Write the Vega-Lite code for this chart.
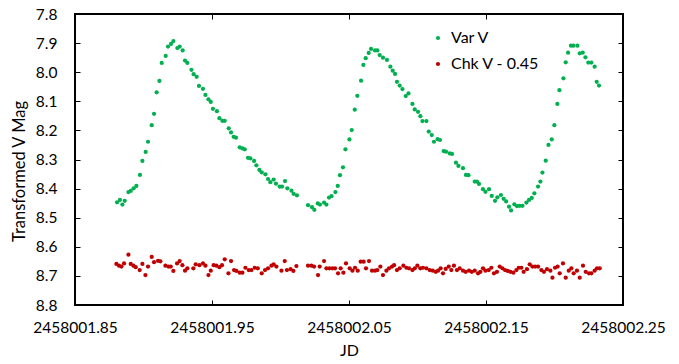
{
"$schema":"https://vega.github.io/schema/vega-lite/v6.json",
"width":548,"height":291,
"autosize":{"type":"none"},
"padding":{"left":75,"top":14,"right":56,"bottom":59},
"background":"white",
"config":{"view":{"stroke":"#000","strokeWidth":2},"font":"Lato"},
"data":{"values":[
{"s":"Var V","jd":2458001.8807,"mag":8.447},{"s":"Var V","jd":2458001.8828,"mag":8.439},{"s":"Var V","jd":2458001.8846,"mag":8.455},{"s":"Var V","jd":2458001.8863,"mag":8.442},{"s":"Var V","jd":2458001.889,"mag":8.412},{"s":"Var V","jd":2458001.8907,"mag":8.408},{"s":"Var V","jd":2458001.8928,"mag":8.399},{"s":"Var V","jd":2458001.8948,"mag":8.391},{"s":"Var V","jd":2458001.8974,"mag":8.353},{"s":"Var V","jd":2458001.8992,"mag":8.305},{"s":"Var V","jd":2458001.9016,"mag":8.274},{"s":"Var V","jd":2458001.9033,"mag":8.239},{"s":"Var V","jd":2458001.906,"mag":8.182},{"s":"Var V","jd":2458001.9077,"mag":8.143},{"s":"Var V","jd":2458001.9096,"mag":8.069},{"s":"Var V","jd":2458001.9116,"mag":8.03},{"s":"Var V","jd":2458001.9133,"mag":7.968},{"s":"Var V","jd":2458001.9162,"mag":7.944},{"s":"Var V","jd":2458001.9179,"mag":7.912},{"s":"Var V","jd":2458001.9201,"mag":7.903},{"s":"Var V","jd":2458001.9218,"mag":7.893},{"s":"Var V","jd":2458001.9247,"mag":7.917},{"s":"Var V","jd":2458001.9264,"mag":7.912},{"s":"Var V","jd":2458001.9286,"mag":7.925},{"s":"Var V","jd":2458001.9303,"mag":7.96},{"s":"Var V","jd":2458001.932,"mag":7.968},{"s":"Var V","jd":2458001.935,"mag":7.992},{"s":"Var V","jd":2458001.9366,"mag":8.007},{"s":"Var V","jd":2458001.9388,"mag":8.016},{"s":"Var V","jd":2458001.9405,"mag":8.047},{"s":"Var V","jd":2458001.9434,"mag":8.057},{"s":"Var V","jd":2458001.9452,"mag":8.078},{"s":"Var V","jd":2458001.9474,"mag":8.093},{"s":"Var V","jd":2458001.9491,"mag":8.102},{"s":"Var V","jd":2458001.9507,"mag":8.126},{"s":"Var V","jd":2458001.9536,"mag":8.134},{"s":"Var V","jd":2458001.9554,"mag":8.158},{"s":"Var V","jd":2458001.9576,"mag":8.167},{"s":"Var V","jd":2458001.9593,"mag":8.167},{"s":"Var V","jd":2458001.9622,"mag":8.193},{"s":"Var V","jd":2458001.9639,"mag":8.207},{"s":"Var V","jd":2458001.9658,"mag":8.222},{"s":"Var V","jd":2458001.9675,"mag":8.225},{"s":"Var V","jd":2458001.9702,"mag":8.258},{"s":"Var V","jd":2458001.9722,"mag":8.262},{"s":"Var V","jd":2458001.9739,"mag":8.265},{"s":"Var V","jd":2458001.9763,"mag":8.294},{"s":"Var V","jd":2458001.978,"mag":8.296},{"s":"Var V","jd":2458001.9807,"mag":8.305},{"s":"Var V","jd":2458001.9824,"mag":8.32},{"s":"Var V","jd":2458001.9846,"mag":8.336},{"s":"Var V","jd":2458001.9863,"mag":8.344},{"s":"Var V","jd":2458001.989,"mag":8.351},{"s":"Var V","jd":2458001.9909,"mag":8.367},{"s":"Var V","jd":2458001.9926,"mag":8.378},{"s":"Var V","jd":2458001.995,"mag":8.369},{"s":"Var V","jd":2458001.9967,"mag":8.383},{"s":"Var V","jd":2458001.9994,"mag":8.393},{"s":"Var V","jd":2458002.0011,"mag":8.393},{"s":"Var V","jd":2458002.0033,"mag":8.374},{"s":"Var V","jd":2458002.005,"mag":8.399},{"s":"Var V","jd":2458002.008,"mag":8.407},{"s":"Var V","jd":2458002.0096,"mag":8.418},{"s":"Var V","jd":2458002.012,"mag":8.423},{"s":"Var V","jd":2458002.0201,"mag":8.457},{"s":"Var V","jd":2458002.023,"mag":8.464},{"s":"Var V","jd":2458002.0247,"mag":8.473},{"s":"Var V","jd":2458002.0272,"mag":8.451},{"s":"Var V","jd":2458002.0288,"mag":8.455},{"s":"Var V","jd":2458002.0318,"mag":8.448},{"s":"Var V","jd":2458002.0335,"mag":8.455},{"s":"Var V","jd":2458002.0354,"mag":8.431},{"s":"Var V","jd":2458002.0372,"mag":8.426},{"s":"Var V","jd":2458002.0401,"mag":8.412},{"s":"Var V","jd":2458002.0418,"mag":8.391},{"s":"Var V","jd":2458002.0434,"mag":8.354},{"s":"Var V","jd":2458002.0456,"mag":8.327},{"s":"Var V","jd":2458002.0474,"mag":8.265},{"s":"Var V","jd":2458002.0503,"mag":8.231},{"s":"Var V","jd":2458002.052,"mag":8.199},{"s":"Var V","jd":2458002.0542,"mag":8.129},{"s":"Var V","jd":2458002.0561,"mag":8.081},{"s":"Var V","jd":2458002.0588,"mag":8.029},{"s":"Var V","jd":2458002.0605,"mag":7.975},{"s":"Var V","jd":2458002.0622,"mag":7.952},{"s":"Var V","jd":2458002.0644,"mag":7.934},{"s":"Var V","jd":2458002.0661,"mag":7.92},{"s":"Var V","jd":2458002.069,"mag":7.925},{"s":"Var V","jd":2458002.0707,"mag":7.925},{"s":"Var V","jd":2458002.0724,"mag":7.941},{"s":"Var V","jd":2458002.0748,"mag":7.95},{"s":"Var V","jd":2458002.0777,"mag":7.958},{"s":"Var V","jd":2458002.0802,"mag":7.981},{"s":"Var V","jd":2458002.0819,"mag":7.995},{"s":"Var V","jd":2458002.0836,"mag":8.006},{"s":"Var V","jd":2458002.085,"mag":8.033},{"s":"Var V","jd":2458002.087,"mag":8.046},{"s":"Var V","jd":2458002.089,"mag":8.058},{"s":"Var V","jd":2458002.0914,"mag":8.082},{"s":"Var V","jd":2458002.0934,"mag":8.073},{"s":"Var V","jd":2458002.0963,"mag":8.109},{"s":"Var V","jd":2458002.098,"mag":8.128},{"s":"Var V","jd":2458002.1004,"mag":8.136},{"s":"Var V","jd":2458002.1021,"mag":8.151},{"s":"Var V","jd":2458002.1036,"mag":8.168},{"s":"Var V","jd":2458002.1065,"mag":8.168},{"s":"Var V","jd":2458002.1082,"mag":8.204},{"s":"Var V","jd":2458002.1104,"mag":8.216},{"s":"Var V","jd":2458002.112,"mag":8.239},{"s":"Var V","jd":2458002.1147,"mag":8.23},{"s":"Var V","jd":2458002.1164,"mag":8.233},{"s":"Var V","jd":2458002.1191,"mag":8.271},{"s":"Var V","jd":2458002.1208,"mag":8.273},{"s":"Var V","jd":2458002.1235,"mag":8.279},{"s":"Var V","jd":2458002.1252,"mag":8.281},{"s":"Var V","jd":2458002.1281,"mag":8.311},{"s":"Var V","jd":2458002.1299,"mag":8.322},{"s":"Var V","jd":2458002.1332,"mag":8.33},{"s":"Var V","jd":2458002.1354,"mag":8.353},{"s":"Var V","jd":2458002.1372,"mag":8.354},{"s":"Var V","jd":2458002.1418,"mag":8.376},{"s":"Var V","jd":2458002.1434,"mag":8.376},{"s":"Var V","jd":2458002.1449,"mag":8.384},{"s":"Var V","jd":2458002.1478,"mag":8.402},{"s":"Var V","jd":2458002.1496,"mag":8.411},{"s":"Var V","jd":2458002.1522,"mag":8.402},{"s":"Var V","jd":2458002.1542,"mag":8.425},{"s":"Var V","jd":2458002.1566,"mag":8.442},{"s":"Var V","jd":2458002.1583,"mag":8.43},{"s":"Var V","jd":2458002.1609,"mag":8.422},{"s":"Var V","jd":2458002.1629,"mag":8.435},{"s":"Var V","jd":2458002.1647,"mag":8.444},{"s":"Var V","jd":2458002.1668,"mag":8.462},{"s":"Var V","jd":2458002.1683,"mag":8.475},{"s":"Var V","jd":2458002.1707,"mag":8.454},{"s":"Var V","jd":2458002.1726,"mag":8.46},{"s":"Var V","jd":2458002.1746,"mag":8.459},{"s":"Var V","jd":2458002.1766,"mag":8.459},{"s":"Var V","jd":2458002.1795,"mag":8.448},{"s":"Var V","jd":2458002.1814,"mag":8.439},{"s":"Var V","jd":2458002.1834,"mag":8.432},{"s":"Var V","jd":2458002.1853,"mag":8.416},{"s":"Var V","jd":2458002.188,"mag":8.393},{"s":"Var V","jd":2458002.1897,"mag":8.376},{"s":"Var V","jd":2458002.1912,"mag":8.345},{"s":"Var V","jd":2458002.1936,"mag":8.304},{"s":"Var V","jd":2458002.1956,"mag":8.25},{"s":"Var V","jd":2458002.198,"mag":8.231},{"s":"Var V","jd":2458002.1999,"mag":8.182},{"s":"Var V","jd":2458002.2021,"mag":8.109},{"s":"Var V","jd":2458002.2036,"mag":8.062},{"s":"Var V","jd":2458002.2065,"mag":8.021},{"s":"Var V","jd":2458002.2082,"mag":7.966},{"s":"Var V","jd":2458002.2099,"mag":7.933},{"s":"Var V","jd":2458002.212,"mag":7.909},{"s":"Var V","jd":2458002.2138,"mag":7.909},{"s":"Var V","jd":2458002.2167,"mag":7.909},{"s":"Var V","jd":2458002.2184,"mag":7.935},{"s":"Var V","jd":2458002.2206,"mag":7.933},{"s":"Var V","jd":2458002.2226,"mag":7.949},{"s":"Var V","jd":2458002.2247,"mag":7.967},{"s":"Var V","jd":2458002.2269,"mag":7.967},{"s":"Var V","jd":2458002.2293,"mag":7.981},{"s":"Var V","jd":2458002.2308,"mag":8.033},{"s":"Var V","jd":2458002.2325,"mag":8.046},
{"s":"Chk V - 0.45","jd":2458001.8802,"mag":8.659},{"s":"Chk V - 0.45","jd":2458001.8821,"mag":8.665},{"s":"Chk V - 0.45","jd":2458001.8839,"mag":8.668},{"s":"Chk V - 0.45","jd":2458001.8858,"mag":8.657},{"s":"Chk V - 0.45","jd":2458001.889,"mag":8.627},{"s":"Chk V - 0.45","jd":2458001.8907,"mag":8.659},{"s":"Chk V - 0.45","jd":2458001.8926,"mag":8.665},{"s":"Chk V - 0.45","jd":2458001.8943,"mag":8.67},{"s":"Chk V - 0.45","jd":2458001.8972,"mag":8.68},{"s":"Chk V - 0.45","jd":2458001.8992,"mag":8.659},{"s":"Chk V - 0.45","jd":2458001.9014,"mag":8.697},{"s":"Chk V - 0.45","jd":2458001.9033,"mag":8.668},{"s":"Chk V - 0.45","jd":2458001.906,"mag":8.635},{"s":"Chk V - 0.45","jd":2458001.9077,"mag":8.653},{"s":"Chk V - 0.45","jd":2458001.9106,"mag":8.648},{"s":"Chk V - 0.45","jd":2458001.9123,"mag":8.65},{"s":"Chk V - 0.45","jd":2458001.916,"mag":8.665},{"s":"Chk V - 0.45","jd":2458001.9182,"mag":8.668},{"s":"Chk V - 0.45","jd":2458001.9199,"mag":8.668},{"s":"Chk V - 0.45","jd":2458001.9218,"mag":8.683},{"s":"Chk V - 0.45","jd":2458001.9245,"mag":8.657},{"s":"Chk V - 0.45","jd":2458001.9264,"mag":8.649},{"s":"Chk V - 0.45","jd":2458001.9284,"mag":8.663},{"s":"Chk V - 0.45","jd":2458001.9303,"mag":8.682},{"s":"Chk V - 0.45","jd":2458001.932,"mag":8.674},{"s":"Chk V - 0.45","jd":2458001.9364,"mag":8.674},{"s":"Chk V - 0.45","jd":2458001.9381,"mag":8.66},{"s":"Chk V - 0.45","jd":2458001.9408,"mag":8.663},{"s":"Chk V - 0.45","jd":2458001.9434,"mag":8.657},{"s":"Chk V - 0.45","jd":2458001.9452,"mag":8.665},{"s":"Chk V - 0.45","jd":2458001.9474,"mag":8.697},{"s":"Chk V - 0.45","jd":2458001.9491,"mag":8.682},{"s":"Chk V - 0.45","jd":2458001.9512,"mag":8.663},{"s":"Chk V - 0.45","jd":2458001.9532,"mag":8.665},{"s":"Chk V - 0.45","jd":2458001.9554,"mag":8.67},{"s":"Chk V - 0.45","jd":2458001.9573,"mag":8.663},{"s":"Chk V - 0.45","jd":2458001.9593,"mag":8.643},{"s":"Chk V - 0.45","jd":2458001.962,"mag":8.691},{"s":"Chk V - 0.45","jd":2458001.9639,"mag":8.649},{"s":"Chk V - 0.45","jd":2458001.9661,"mag":8.68},{"s":"Chk V - 0.45","jd":2458001.9678,"mag":8.683},{"s":"Chk V - 0.45","jd":2458001.9702,"mag":8.689},{"s":"Chk V - 0.45","jd":2458001.9722,"mag":8.689},{"s":"Chk V - 0.45","jd":2458001.9744,"mag":8.672},{"s":"Chk V - 0.45","jd":2458001.9768,"mag":8.68},{"s":"Chk V - 0.45","jd":2458001.9788,"mag":8.68},{"s":"Chk V - 0.45","jd":2458001.9812,"mag":8.672},{"s":"Chk V - 0.45","jd":2458001.9834,"mag":8.674},{"s":"Chk V - 0.45","jd":2458001.9863,"mag":8.691},{"s":"Chk V - 0.45","jd":2458001.9887,"mag":8.68},{"s":"Chk V - 0.45","jd":2458001.9909,"mag":8.674},{"s":"Chk V - 0.45","jd":2458001.9934,"mag":8.665},{"s":"Chk V - 0.45","jd":2458001.995,"mag":8.66},{"s":"Chk V - 0.45","jd":2458001.997,"mag":8.668},{"s":"Chk V - 0.45","jd":2458002.0007,"mag":8.682},{"s":"Chk V - 0.45","jd":2458002.0031,"mag":8.649},{"s":"Chk V - 0.45","jd":2458002.0047,"mag":8.68},{"s":"Chk V - 0.45","jd":2458002.0074,"mag":8.677},{"s":"Chk V - 0.45","jd":2458002.0094,"mag":8.683},{"s":"Chk V - 0.45","jd":2458002.0116,"mag":8.666},{"s":"Chk V - 0.45","jd":2458002.0201,"mag":8.665},{"s":"Chk V - 0.45","jd":2458002.0226,"mag":8.665},{"s":"Chk V - 0.45","jd":2458002.0245,"mag":8.668},{"s":"Chk V - 0.45","jd":2458002.0274,"mag":8.697},{"s":"Chk V - 0.45","jd":2458002.0286,"mag":8.668},{"s":"Chk V - 0.45","jd":2458002.0318,"mag":8.649},{"s":"Chk V - 0.45","jd":2458002.0335,"mag":8.674},{"s":"Chk V - 0.45","jd":2458002.0357,"mag":8.674},{"s":"Chk V - 0.45","jd":2458002.0379,"mag":8.674},{"s":"Chk V - 0.45","jd":2458002.0398,"mag":8.674},{"s":"Chk V - 0.45","jd":2458002.042,"mag":8.691},{"s":"Chk V - 0.45","jd":2458002.0439,"mag":8.674},{"s":"Chk V - 0.45","jd":2458002.0459,"mag":8.689},{"s":"Chk V - 0.45","jd":2458002.0478,"mag":8.657},{"s":"Chk V - 0.45","jd":2458002.0505,"mag":8.674},{"s":"Chk V - 0.45","jd":2458002.0525,"mag":8.682},{"s":"Chk V - 0.45","jd":2458002.0544,"mag":8.672},{"s":"Chk V - 0.45","jd":2458002.0564,"mag":8.682},{"s":"Chk V - 0.45","jd":2458002.0585,"mag":8.651},{"s":"Chk V - 0.45","jd":2458002.0607,"mag":8.651},{"s":"Chk V - 0.45","jd":2458002.0624,"mag":8.674},{"s":"Chk V - 0.45","jd":2458002.0646,"mag":8.649},{"s":"Chk V - 0.45","jd":2458002.0668,"mag":8.682},{"s":"Chk V - 0.45","jd":2458002.069,"mag":8.682},{"s":"Chk V - 0.45","jd":2458002.0707,"mag":8.68},{"s":"Chk V - 0.45","jd":2458002.0729,"mag":8.668},{"s":"Chk V - 0.45","jd":2458002.0748,"mag":8.697},{"s":"Chk V - 0.45","jd":2458002.0773,"mag":8.682},{"s":"Chk V - 0.45","jd":2458002.0792,"mag":8.674},{"s":"Chk V - 0.45","jd":2458002.0814,"mag":8.668},{"s":"Chk V - 0.45","jd":2458002.0829,"mag":8.663},{"s":"Chk V - 0.45","jd":2458002.085,"mag":8.68},{"s":"Chk V - 0.45","jd":2458002.087,"mag":8.674},{"s":"Chk V - 0.45","jd":2458002.0897,"mag":8.665},{"s":"Chk V - 0.45","jd":2458002.0919,"mag":8.672},{"s":"Chk V - 0.45","jd":2458002.0938,"mag":8.674},{"s":"Chk V - 0.45","jd":2458002.0963,"mag":8.68},{"s":"Chk V - 0.45","jd":2458002.098,"mag":8.674},{"s":"Chk V - 0.45","jd":2458002.0999,"mag":8.665},{"s":"Chk V - 0.45","jd":2458002.1021,"mag":8.674},{"s":"Chk V - 0.45","jd":2458002.104,"mag":8.672},{"s":"Chk V - 0.45","jd":2458002.1065,"mag":8.674},{"s":"Chk V - 0.45","jd":2458002.1089,"mag":8.68},{"s":"Chk V - 0.45","jd":2458002.1111,"mag":8.682},{"s":"Chk V - 0.45","jd":2458002.1133,"mag":8.686},{"s":"Chk V - 0.45","jd":2458002.115,"mag":8.682},{"s":"Chk V - 0.45","jd":2458002.1169,"mag":8.674},{"s":"Chk V - 0.45","jd":2458002.1186,"mag":8.691},{"s":"Chk V - 0.45","jd":2458002.1206,"mag":8.676},{"s":"Chk V - 0.45","jd":2458002.1228,"mag":8.668},{"s":"Chk V - 0.45","jd":2458002.1247,"mag":8.68},{"s":"Chk V - 0.45","jd":2458002.1266,"mag":8.665},{"s":"Chk V - 0.45","jd":2458002.1288,"mag":8.68},{"s":"Chk V - 0.45","jd":2458002.1308,"mag":8.674},{"s":"Chk V - 0.45","jd":2458002.1332,"mag":8.682},{"s":"Chk V - 0.45","jd":2458002.1352,"mag":8.686},{"s":"Chk V - 0.45","jd":2458002.1376,"mag":8.682},{"s":"Chk V - 0.45","jd":2458002.1396,"mag":8.686},{"s":"Chk V - 0.45","jd":2458002.1418,"mag":8.682},{"s":"Chk V - 0.45","jd":2458002.1442,"mag":8.691},{"s":"Chk V - 0.45","jd":2458002.1459,"mag":8.686},{"s":"Chk V - 0.45","jd":2458002.1478,"mag":8.674},{"s":"Chk V - 0.45","jd":2458002.1496,"mag":8.682},{"s":"Chk V - 0.45","jd":2458002.152,"mag":8.68},{"s":"Chk V - 0.45","jd":2458002.1539,"mag":8.672},{"s":"Chk V - 0.45","jd":2458002.1558,"mag":8.691},{"s":"Chk V - 0.45","jd":2458002.158,"mag":8.686},{"s":"Chk V - 0.45","jd":2458002.16,"mag":8.668},{"s":"Chk V - 0.45","jd":2458002.162,"mag":8.674},{"s":"Chk V - 0.45","jd":2458002.1639,"mag":8.68},{"s":"Chk V - 0.45","jd":2458002.1658,"mag":8.683},{"s":"Chk V - 0.45","jd":2458002.1678,"mag":8.686},{"s":"Chk V - 0.45","jd":2458002.17,"mag":8.689},{"s":"Chk V - 0.45","jd":2458002.1722,"mag":8.68},{"s":"Chk V - 0.45","jd":2458002.1739,"mag":8.672},{"s":"Chk V - 0.45","jd":2458002.1758,"mag":8.672},{"s":"Chk V - 0.45","jd":2458002.1775,"mag":8.686},{"s":"Chk V - 0.45","jd":2458002.1799,"mag":8.677},{"s":"Chk V - 0.45","jd":2458002.1819,"mag":8.66},{"s":"Chk V - 0.45","jd":2458002.1839,"mag":8.668},{"s":"Chk V - 0.45","jd":2458002.1858,"mag":8.668},{"s":"Chk V - 0.45","jd":2458002.188,"mag":8.668},{"s":"Chk V - 0.45","jd":2458002.1904,"mag":8.68},{"s":"Chk V - 0.45","jd":2458002.1923,"mag":8.686},{"s":"Chk V - 0.45","jd":2458002.1945,"mag":8.677},{"s":"Chk V - 0.45","jd":2458002.197,"mag":8.682},{"s":"Chk V - 0.45","jd":2458002.1985,"mag":8.706},{"s":"Chk V - 0.45","jd":2458002.2004,"mag":8.672},{"s":"Chk V - 0.45","jd":2458002.2023,"mag":8.668},{"s":"Chk V - 0.45","jd":2458002.2038,"mag":8.691},{"s":"Chk V - 0.45","jd":2458002.2062,"mag":8.657},{"s":"Chk V - 0.45","jd":2458002.2082,"mag":8.706},{"s":"Chk V - 0.45","jd":2458002.2104,"mag":8.682},{"s":"Chk V - 0.45","jd":2458002.2123,"mag":8.674},{"s":"Chk V - 0.45","jd":2458002.214,"mag":8.691},{"s":"Chk V - 0.45","jd":2458002.2164,"mag":8.682},{"s":"Chk V - 0.45","jd":2458002.2184,"mag":8.706},{"s":"Chk V - 0.45","jd":2458002.2208,"mag":8.665},{"s":"Chk V - 0.45","jd":2458002.2228,"mag":8.686},{"s":"Chk V - 0.45","jd":2458002.2252,"mag":8.691},{"s":"Chk V - 0.45","jd":2458002.2269,"mag":8.691},{"s":"Chk V - 0.45","jd":2458002.2293,"mag":8.682},{"s":"Chk V - 0.45","jd":2458002.231,"mag":8.674},{"s":"Chk V - 0.45","jd":2458002.233,"mag":8.674}
]},
"layer":[
{"mark":{"type":"circle","size":18,"opacity":1},
 "encoding":{
  "x":{"field":"jd","type":"quantitative","scale":{"domain":[2458001.85,2458002.25],"nice":false,"zero":false},
   "axis":{"values":[2458001.85,2458001.95,2458002.05,2458002.15,2458002.25],"format":".2f","title":"JD","grid":false,"domain":false,"tickSize":-5,"tickColor":"#000","tickWidth":1,"labelFlush":false,"labelOverlap":false,"labelPadding":20,"labelFontSize":15.5,"labelColor":"#000","labelFont":"Lato","titleFont":"Lato","titleFontSize":16,"titleFontWeight":"normal","titleColor":"#000","titlePadding":7}},
  "y":{"field":"mag","type":"quantitative","scale":{"domain":[7.8,8.8],"reverse":true,"nice":false,"zero":false},
   "axis":{"values":[7.8,7.9,8.0,8.1,8.2,8.3,8.4,8.5,8.6,8.7,8.8],"format":".1f","title":"Transformed V Mag","grid":false,"domain":false,"tickSize":-5,"tickColor":"#000","tickWidth":1,"labelFlush":false,"labelOverlap":false,"labelPadding":23,"labelFontSize":15.5,"labelColor":"#000","labelFont":"Lato","titleFont":"Lato","titleFontSize":16.5,"titleFontWeight":"normal","titleColor":"#000","titlePadding":8,"titleY":157}},
  "color":{"field":"s","type":"nominal","scale":{"domain":["Var V","Chk V - 0.45"],"range":["#00B050","#C00000"]},
   "legend":{"orient":"none","legendX":355,"legendY":16,"title":null,"labelFontSize":16,"labelFont":"Lato","labelColor":"#000","symbolType":"circle","symbolSize":18,"padding":0,"rowPadding":10,"labelOffset":5,"symbolStrokeWidth":0}}
 }},
{"mark":{"type":"point","opacity":0},
 "encoding":{
  "x":{"field":"jd","type":"quantitative","axis":{"orient":"top","values":[2458001.85,2458001.95,2458002.05,2458002.15,2458002.25],"labels":false,"title":null,"grid":false,"domain":false,"tickSize":-5,"tickColor":"#000"}},
  "y":{"field":"mag","type":"quantitative","axis":{"orient":"right","values":[7.8,7.9,8.0,8.1,8.2,8.3,8.4,8.5,8.6,8.7,8.8],"labels":false,"title":null,"grid":false,"domain":false,"tickSize":-5,"tickColor":"#000"}}
 }}
],
"resolve":{"axis":{"x":"independent","y":"independent"}}
}
